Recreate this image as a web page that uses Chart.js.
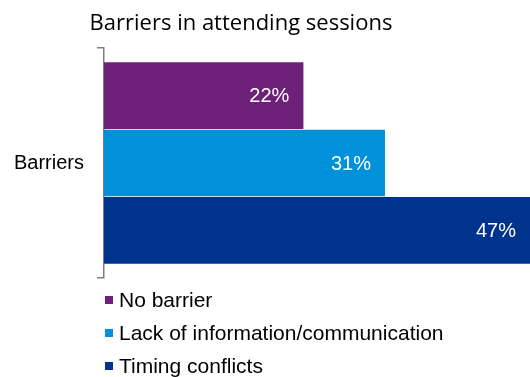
<!DOCTYPE html>
<html>
<head>
<meta charset="utf-8">
<script src="https://cdn.jsdelivr.net/npm/chart.js@4.4.1/dist/chart.umd.min.js"></script>
<style>
  html, body { margin: 0; padding: 0; background: #ffffff; }
  #wrap { position: relative; width: 530px; height: 377px; }
</style>
</head>
<body>
<div id="wrap"><canvas id="chart" width="530" height="377"></canvas></div>
<script>
// Survey result: share of respondents per barrier type
const categories = ['Barriers'];
const seriesNames = ['No barrier', 'Lack of information/communication', 'Timing conflicts'];
const seriesValues = [22, 31, 47];
const seriesColors = ['#6D2077', '#0091DA', '#00338D'];
const chartTitle = 'Barriers in attending sessions';

const FONT = '"Liberation Sans", Arial, sans-serif';

// Title over the plot, drawn in its own position
const titlePlugin = {
  id: 'titleText',
  afterDraw(chart) {
    const ctx = chart.ctx;
    ctx.save();
    ctx.font = '22px "Open Sans", Lato, sans-serif';
    ctx.fillStyle = '#000000';
    ctx.textAlign = 'center';
    ctx.textBaseline = 'alphabetic';
    ctx.fillText(chartTitle, 241, 30);
    ctx.restore();
  }
};

// Value labels inside the end of each bar
const valueLabels = {
  id: 'valueLabels',
  afterDatasetsDraw(chart) {
    const ctx = chart.ctx;
    ctx.save();
    ctx.font = '20px ' + FONT;
    ctx.fillStyle = '#ffffff';
    ctx.textAlign = 'right';
    ctx.textBaseline = 'middle';
    chart.data.datasets.forEach((ds, i) => {
      const meta = chart.getDatasetMeta(i);
      meta.data.forEach((bar, j) => {
        const x = Math.min(bar.x, chart.chartArea.right);
        ctx.fillText(ds.data[j] + '%', x - 14, bar.y + 1);
      });
    });
    ctx.restore();
  }
};

// Legend stacked vertically under the plot
const stackedLegend = {
  id: 'stackedLegend',
  afterDraw(chart) {
    const ctx = chart.ctx;
    ctx.save();
    ctx.font = '21px ' + FONT;
    ctx.textAlign = 'left';
    ctx.textBaseline = 'middle';
    const left = chart.chartArea.left + 1;
    chart.data.datasets.forEach((ds, i) => {
      const cy = 300 + i * 33;
      ctx.fillStyle = ds.backgroundColor;
      ctx.fillRect(left, cy - 4, 8, 8);
      ctx.fillStyle = '#000000';
      ctx.fillText(ds.label, left + 14, cy + 1);
    });
    ctx.restore();
  }
};

const datasets = seriesNames.map((name, i) => ({
  label: name,
  data: [seriesValues[i]],
  backgroundColor: seriesColors[i],
  borderWidth: 0,
  categoryPercentage: 0.878,
  barPercentage: 0.99
}));

new Chart(document.getElementById('chart'), {
  type: 'bar',
  data: { labels: categories, datasets },
  options: {
    indexAxis: 'y',
    responsive: false,
    animation: false,
    layout: { padding: { top: 48, bottom: 99, left: 0, right: 0 } },
    plugins: {
      legend: { display: false },
      title: { display: false },
      tooltip: { enabled: false }
    },
    scales: {
      x: {
        display: false,
        min: 0,
        max: 47
      },
      y: {
        type: 'category',
        afterFit(scale) { scale.width = 104; },
        grid: {
          drawOnChartArea: false,
          drawTicks: true,
          tickLength: 7,
          color: '#7f7f7f',
          lineWidth: 1.5
        },
        border: { display: true, color: '#7f7f7f', width: 1.5 },
        ticks: {
          color: '#000000',
          font: { family: FONT, size: 20 },
          padding: 13
        }
      }
    }
  },
  plugins: [titlePlugin, valueLabels, stackedLegend]
});
</script>
</body>
</html>
